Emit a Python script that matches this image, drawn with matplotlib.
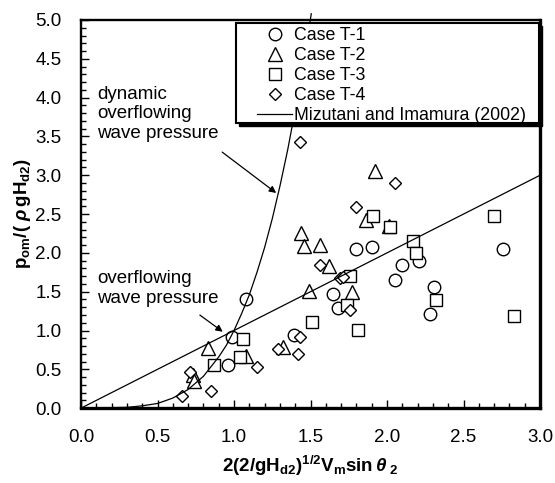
import matplotlib
matplotlib.use('Agg')
import matplotlib.pyplot as plt
from matplotlib.patches import Rectangle
from matplotlib.ticker import MultipleLocator

plt.rcParams['font.family'] = ['Liberation Sans', 'DejaVu Sans']
plt.rcParams['mathtext.fontset'] = 'custom'
plt.rcParams['mathtext.rm'] = 'Liberation Sans:bold'
plt.rcParams['mathtext.it'] = 'Liberation Sans:italic:bold'
plt.rcParams['mathtext.bf'] = 'Liberation Sans:bold'

t1_x = [0.96, 0.99, 1.08, 1.39, 1.65, 1.68, 1.80, 1.90, 2.05, 2.10, 2.21, 2.28, 2.31, 2.76]
t1_y = [0.55, 0.91, 1.41, 0.94, 1.47, 1.29, 2.05, 2.07, 1.65, 1.85, 1.89, 1.21, 1.56, 2.05]

t2_x = [0.73, 0.74, 0.83, 1.08, 1.32, 1.44, 1.46, 1.49, 1.56, 1.62, 1.77, 1.86, 1.92, 2.01]
t2_y = [0.43, 0.35, 0.77, 0.67, 0.79, 2.25, 2.09, 1.51, 2.10, 1.83, 1.50, 2.42, 3.05, 2.34]

t3_x = [0.87, 1.04, 1.06, 1.51, 1.74, 1.76, 1.81, 1.91, 2.02, 2.17, 2.19, 2.32, 2.70, 2.83]
t3_y = [0.56, 0.66, 0.89, 1.11, 1.33, 1.70, 1.01, 2.48, 2.33, 2.15, 2.00, 1.39, 2.47, 1.19]

t4_x = [0.66, 0.71, 0.85, 1.15, 1.29, 1.42, 1.43, 1.43, 1.56, 1.69, 1.71, 1.76, 1.80, 2.05]
t4_y = [0.15, 0.47, 0.22, 0.53, 0.76, 0.70, 0.91, 3.43, 1.84, 1.67, 1.69, 1.27, 2.59, 2.90]

# Mizutani and Imamura (2002)
line_x = [0.0, 3.0]
line_y = [0.0, 3.0]
curve_x = [0.0, 0.3, 0.4, 0.5, 0.6, 0.7, 0.8, 0.9, 0.95, 1.0, 1.05, 1.1, 1.15, 1.2,
           1.25, 1.3, 1.35, 1.4, 1.45, 1.505]
curve_y = [0.0, 0.01, 0.03, 0.06, 0.13, 0.24, 0.41, 0.66, 0.81, 1.0, 1.22, 1.46, 1.75, 2.07,
           2.44, 2.86, 3.32, 3.84, 4.42, 5.08]

fig = plt.figure(figsize=(5.55, 4.83), dpi=100)
ax = fig.add_axes([0.146, 0.155, 0.827, 0.8036])

mk = dict(linestyle='none', mfc='white', mec='black', mew=1.0)
ax.plot(t1_x, t1_y, marker='o', ms=9, label='Case T-1', **mk)
ax.plot(t2_x, t2_y, marker='^', ms=9.5, label='Case T-2', **mk)
ax.plot(t3_x, t3_y, marker='s', ms=9.3, label='Case T-3', **mk)
ax.plot(t4_x, t4_y, marker='D', ms=6.6, label='Case T-4', **mk)
ax.plot(line_x, line_y, '-', color='black', lw=0.9, label='Mizutani and Imamura (2002)')
ax.plot(curve_x, curve_y, '-', color='black', lw=0.9, clip_on=False)

ax.set_xlim(0, 3.0)
ax.set_ylim(0, 5.0)
ax.xaxis.set_major_locator(MultipleLocator(0.5))
ax.xaxis.set_minor_locator(MultipleLocator(0.1))
ax.yaxis.set_major_locator(MultipleLocator(0.5))
ax.yaxis.set_minor_locator(MultipleLocator(0.1))
ax.xaxis.set_major_formatter(lambda v, p: f'{v:.1f}')
ax.yaxis.set_major_formatter(lambda v, p: f'{v:.1f}')
ax.tick_params(which='both', direction='in', top=False, right=False, width=1.0)
ax.tick_params(which='major', length=6, labelsize=13.5)
ax.tick_params(which='minor', length=3.5)
ax.tick_params(axis='x', which='major', pad=15)
ax.tick_params(axis='y', which='major', pad=14)

for side in ['top', 'left']:
    ax.spines[side].set_linewidth(1.7)
for side in ['bottom', 'right']:
    ax.spines[side].set_linewidth(2.4)

ax.set_xlabel(r'2(2/gH$_{\rm d2}$)$^{\rm 1/2}$V$_{\rm m}$sin$\,\theta_{\rm \ 2}$',
              fontsize=13.5, fontweight='bold', labelpad=6)
ax.set_ylabel(r'p$_{\rm om}$/( $\rho\,$gH$_{\rm d2}$)', fontsize=13.5,
              fontweight='bold', labelpad=2)

# 注記
ax.text(0.105, 3.79, 'dynamic\noverflowing\nwave pressure', fontsize=13.5,
        ha='left', va='center')
ax.annotate('', xy=(1.29, 2.75), xytext=(0.908, 3.32),
            arrowprops=dict(arrowstyle='-|>', lw=0.9, color='black', mutation_scale=10))
ax.text(0.105, 1.54, 'overflowing\nwave pressure', fontsize=13.5,
        ha='left', va='center')
ax.annotate('', xy=(0.941, 0.963), xytext=(0.762, 1.22),
            arrowprops=dict(arrowstyle='-|>', lw=0.9, color='black', mutation_scale=10))

# 凡例の枠 (影付き)
shadow = Rectangle((0.3377 + 0.0072, 0.7345 - 0.0085), 0.6603, 0.2585,
                   transform=ax.transAxes, facecolor='black', edgecolor='black',
                   lw=1.0, zorder=4, clip_on=False)
box = Rectangle((0.3377, 0.7345), 0.6603, 0.2585, transform=ax.transAxes,
                facecolor='white', edgecolor='black', lw=1.5, zorder=4.5, clip_on=False)
ax.add_patch(shadow)
ax.add_patch(box)

leg = ax.legend(loc='upper left', bbox_to_anchor=(0.383, 0.981), fontsize=12.8,
                frameon=False, borderaxespad=0, borderpad=0,
                handlelength=2.0, handletextpad=0.1, labelspacing=0.17)
leg.set_zorder(5)

fig.savefig('out.png', dpi=100)
